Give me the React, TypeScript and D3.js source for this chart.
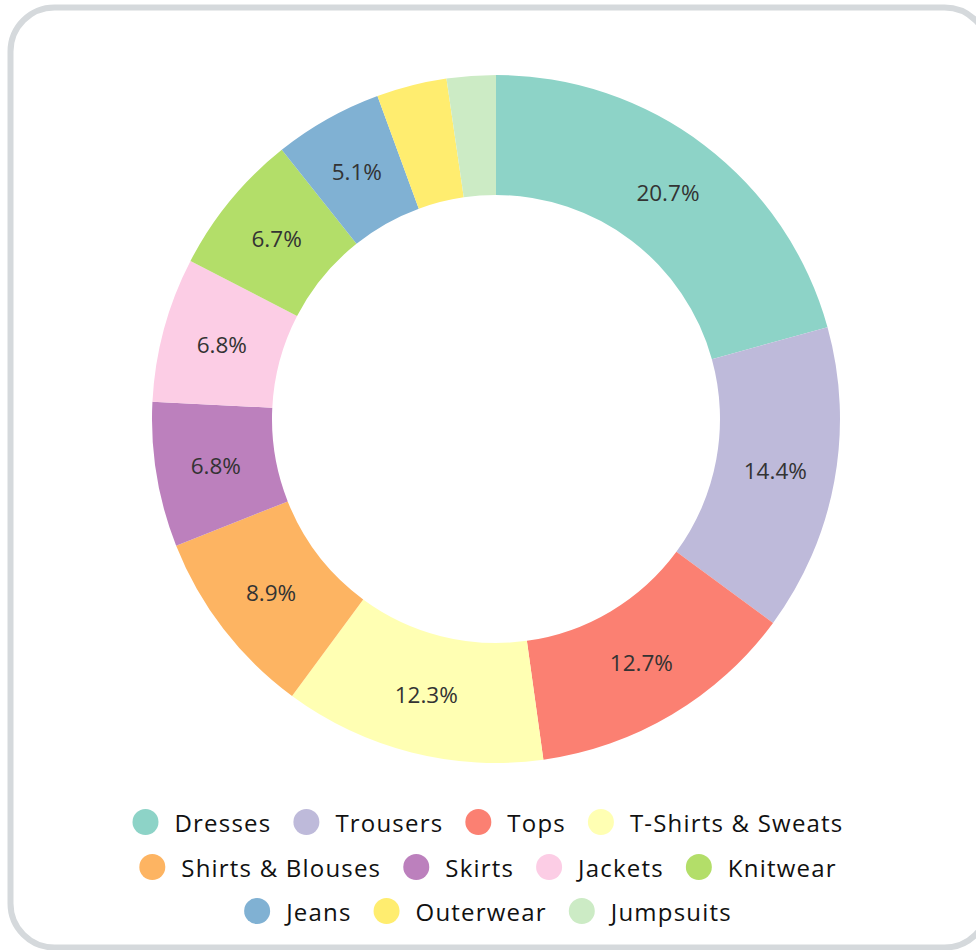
import React from "react";
import * as d3 from "d3";

const categories = ["Dresses", "Trousers", "Tops", "T-Shirts & Sweats", "Shirts & Blouses", "Skirts", "Jackets", "Knitwear", "Jeans", "Outerwear", "Jumpsuits"];
const shares = [20.7, 14.4, 12.7, 12.3, 8.9, 6.8, 6.8, 6.7, 5.1, 3.3, 2.3];
const colors = ["#8dd3c7", "#bebada", "#fb8072", "#ffffb3", "#fdb462", "#bc80bd", "#fccde5", "#b3de69", "#80b1d3", "#ffed6f", "#ccebc5"];
const legendRows = [[0, 1, 2, 3], [4, 5, 6, 7], [8, 9, 10]];

const W = 976, H = 950;
const cx = 496, cy = 419, rOuter = 344, rInner = 224;
const legendFont = "'Open Sans', sans-serif";
const legendSize = 24;
const legendSpacing = 1.2;

function measure(text: string, font: string, spacing: number): number {
  const c = document.createElement("canvas");
  const ctx = c.getContext("2d")!;
  ctx.font = font;
  return ctx.measureText(text).width + spacing * text.length;
}

export default function App() {
  const data = categories.map((c, i) => ({ name: c, value: shares[i], color: colors[i] }));
  const pie = d3.pie<any>().value((d) => d.value).sort(null);
  const arcs = pie(data);
  const arc = d3.arc<any>().innerRadius(rInner).outerRadius(rOuter);
  const labelArc = d3.arc<any>().innerRadius((rInner + rOuter) / 2).outerRadius((rInner + rOuter) / 2);
  const total = d3.sum(shares);

  const rowY = [822, 867, 911];
  const markerR = 13;
  const markerGap = 16;
  const itemGap = 22;
  const centerX = 488;
  const legendItems: any[] = [];
  legendRows.forEach((row, ri) => {
    const widths = row.map((i) => measure(categories[i], `${legendSize}px ${legendFont}`, legendSpacing));
    const itemW = widths.map((w) => markerR * 2 + markerGap + w);
    const totalW = d3.sum(itemW) + itemGap * (row.length - 1);
    let x = centerX - totalW / 2;
    row.forEach((i, k) => {
      legendItems.push({ i, x, y: rowY[ri] });
      x += itemW[k] + itemGap;
    });
  });

  return (
    <svg width={W} height={H} style={{ position: "absolute", left: 0, top: 0 }}>
      <rect x={10.5} y={7.5} width={W + 2} height={H - 10} rx={44} ry={44} fill="#fff" stroke="#d5d9dc" strokeWidth={6} />
      <g transform={`translate(${cx},${cy})`}>
        {arcs.map((a, i) => (
          <path key={i} d={arc(a) as string} fill={a.data.color} />
        ))}
        {arcs.map((a, i) => {
          if (a.data.value < 5) return null;
          const [x, y] = labelArc.centroid(a);
          return (
            <text key={"l" + i} x={x} y={y} textAnchor="middle" dominantBaseline="central" fontFamily="'Open Sans', sans-serif" fontSize={22.5} fill="#333">
              {((a.data.value / total) * 100).toFixed(1)}%
            </text>
          );
        })}
      </g>
      <g>
        {legendItems.map((it) => (
          <g key={"lg" + it.i}>
            <circle cx={it.x + markerR} cy={it.y} r={markerR} fill={colors[it.i]} />
            <text x={it.x + markerR * 2 + markerGap} y={it.y} dominantBaseline="central" fontFamily={legendFont} fontSize={legendSize} letterSpacing={legendSpacing} fill="#111">
              {categories[it.i]}
            </text>
          </g>
        ))}
      </g>
    </svg>
  );
}
